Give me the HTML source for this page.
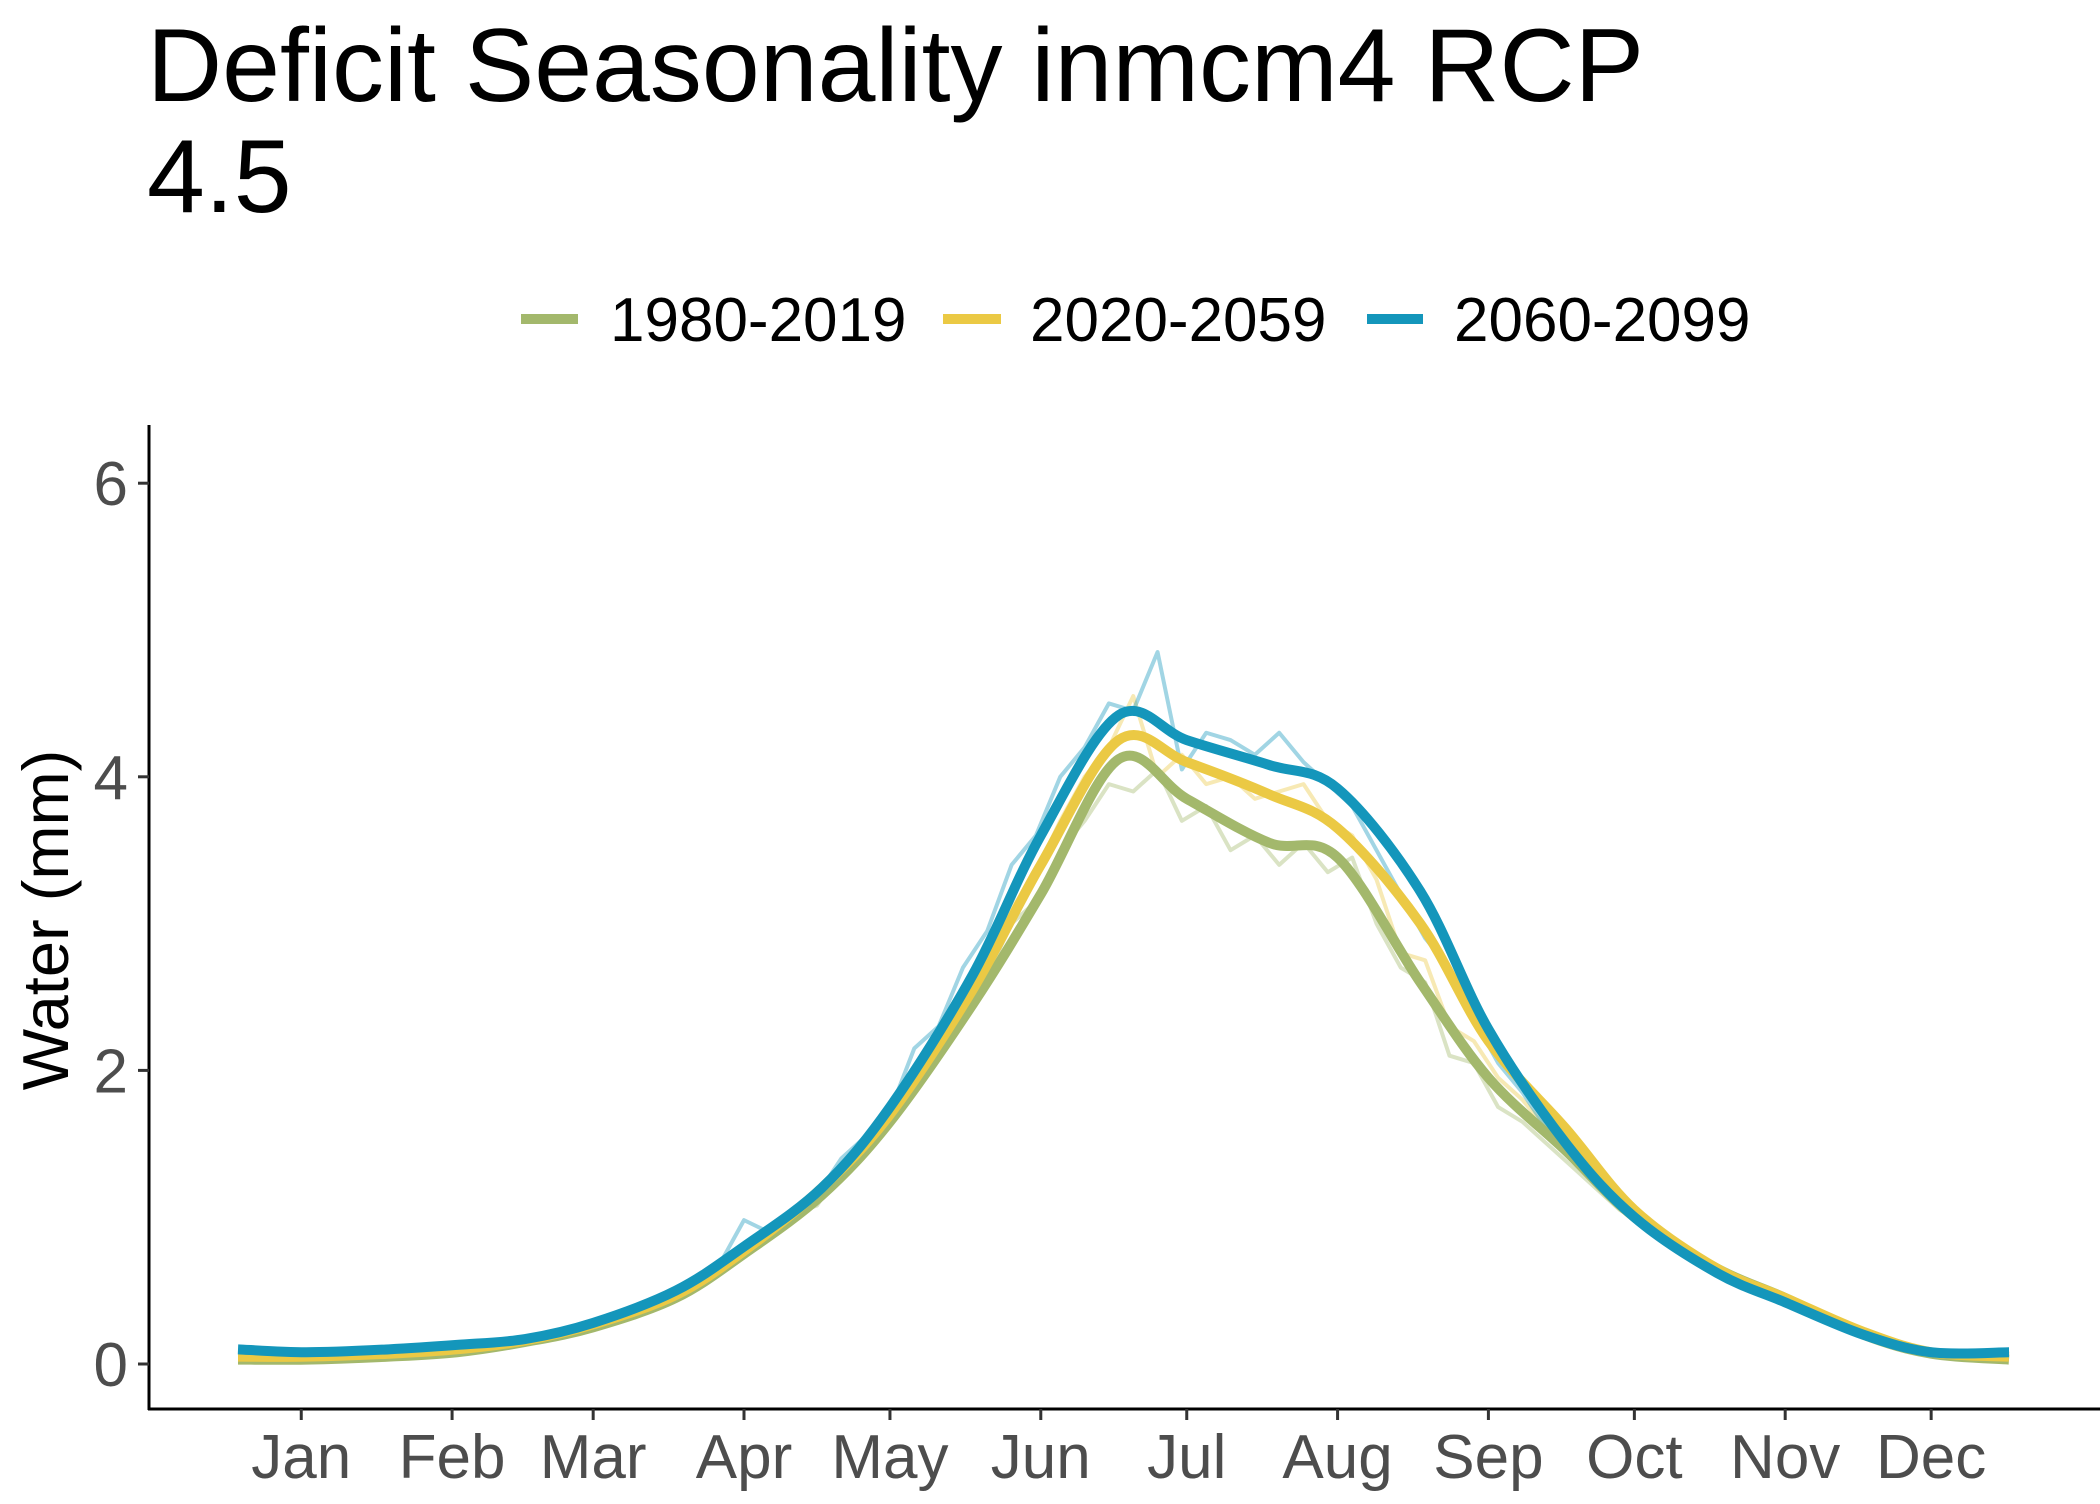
<!DOCTYPE html>
<html><head><meta charset="utf-8"><style>
html,body{margin:0;padding:0;background:#fff;}
svg text{font-family:"Liberation Sans",sans-serif;}
</style></head><body>
<svg id="chart" width="2100" height="1499" viewBox="0 0 2100 1499" xmlns="http://www.w3.org/2000/svg">
<text x="147" y="101" font-size="104" fill="#000">Deficit Seasonality inmcm4 RCP</text>
<text x="147" y="212" font-size="104" fill="#000">4.5</text>
<g>
<line x1="521" y1="319" x2="578" y2="319" stroke="#a3b86c" stroke-width="10"/>
<text x="610" y="341" font-size="62" fill="#000">1980-2019</text>
<line x1="943" y1="319" x2="1001" y2="319" stroke="#ebc944" stroke-width="10"/>
<text x="1030" y="341" font-size="62" fill="#000">2020-2059</text>
<line x1="1367" y1="319" x2="1423" y2="319" stroke="#1496bb" stroke-width="10"/>
<text x="1454" y="341" font-size="62" fill="#000">2060-2099</text>
</g>
<text transform="translate(68,920) rotate(-90)" text-anchor="middle" font-size="65" fill="#000">Water (mm)</text>
<g id="plot"></g>
</svg>
<script>
const yTicks=[0,2,4,6];
const monthLabels=["Jan","Feb","Mar","Apr","May","Jun","Jul","Aug","Sep","Oct","Nov","Dec"];
const monthTickDays=[14,45,74,105,135,166,196,227,258,288,319,349];
const smoothDays=[1,15,32,46,60,74,91,105,121,135,152,166,182,196,213,227,244,258,274,288,305,319,335,349,365];
const green=[0.03,0.03,0.05,0.08,0.15,0.25,0.45,0.75,1.15,1.65,2.45,3.2,4.12,3.85,3.55,3.45,2.6,1.95,1.45,1.0,0.65,0.45,0.2,0.07,0.03];
const yellow=[0.05,0.05,0.07,0.1,0.16,0.27,0.47,0.77,1.2,1.7,2.55,3.4,4.25,4.1,3.88,3.65,3.0,2.2,1.6,1.05,0.65,0.45,0.22,0.08,0.05];
const blue=[0.1,0.08,0.1,0.13,0.17,0.28,0.5,0.8,1.2,1.75,2.65,3.6,4.42,4.25,4.08,3.92,3.22,2.28,1.5,1.0,0.62,0.42,0.2,0.08,0.08];
const rawStart=100, rawStep=5;
const greenRaw=[0.62,0.78,0.85,1.02,1.08,1.32,1.45,1.62,1.95,2.1,2.45,2.65,3.0,3.15,3.5,3.7,3.95,3.9,4.05,3.7,3.8,3.5,3.6,3.4,3.55,3.35,3.45,3.0,2.7,2.6,2.1,2.05,1.75,1.65,1.5,1.35,1.2,1.05,0.95,0.82,0.72];
const yellowRaw=[0.65,0.8,0.88,1.05,1.12,1.35,1.5,1.68,1.95,2.2,2.5,2.75,3.1,3.35,3.7,4.0,4.2,4.55,4.0,4.15,3.95,4.0,3.85,3.9,3.95,3.7,3.6,3.3,2.8,2.75,2.3,2.2,1.95,1.8,1.6,1.45,1.25,1.1,0.98,0.85,0.75];
const blueRaw=[0.68,0.98,0.9,1.05,1.15,1.4,1.55,1.72,2.15,2.3,2.7,2.95,3.4,3.6,4.0,4.2,4.5,4.45,4.85,4.05,4.3,4.25,4.15,4.3,4.1,3.95,3.8,3.5,3.2,2.9,2.7,2.35,2.05,1.85,1.6,1.45,1.25,1.1,1.0,0.85,0.75];

const NS="http://www.w3.org/2000/svg";
const plot=document.getElementById('plot');
const x=d=>238+(d-1)*(2009-238)/364;
const y=v=>1364-v*146.8;
function mk(tag,attrs){const e=document.createElementNS(NS,tag);for(const k in attrs)e.setAttribute(k,attrs[k]);plot.appendChild(e);return e;}
function smoothPath(xs,ys){
  const p=xs.map((d,i)=>[x(d),y(ys[i])]);
  let s="M"+p[0][0]+","+p[0][1];
  for(let i=0;i<p.length-1;i++){
    const p0=p[Math.max(0,i-1)],p1=p[i],p2=p[i+1],p3=p[Math.min(p.length-1,i+2)];
    const c1=[p1[0]+(p2[0]-p0[0])/6,p1[1]+(p2[1]-p0[1])/6];
    const c2=[p2[0]-(p3[0]-p1[0])/6,p2[1]-(p3[1]-p1[1])/6];
    s+=" C"+c1[0]+","+c1[1]+" "+c2[0]+","+c2[1]+" "+p2[0]+","+p2[1];
  }
  return s;
}
let e=mk('line',{x1:149,y1:425,x2:149,y2:1410,stroke:'#000','stroke-width':3});


e=mk('line',{x1:148,y1:1409,x2:2100,y2:1409,stroke:'#000','stroke-width':3});


yTicks.forEach(v=>{
  let t=mk('line',{x1:138,y1:y(v),x2:149,y2:y(v),stroke:'#333','stroke-width':3});
  
  
  let l=mk('text',{x:128,y:y(v)+22,'text-anchor':'end','font-size':62,fill:'#4d4d4d'});
  l.textContent=v;
  
  
});
monthTickDays.forEach((d,i)=>{
  let t=mk('line',{x1:x(d),y1:1409,x2:x(d),y2:1420,stroke:'#333','stroke-width':3});
  
  
  let l=mk('text',{x:x(d),y:1478,'text-anchor':'middle','font-size':62,fill:'#4d4d4d'});
  l.textContent=monthLabels[i];
  
  
});
const series=[["1980-2019",green,greenRaw,"#a3b86c"],["2020-2059",yellow,yellowRaw,"#ebc944"],["2060-2099",blue,blueRaw,"#1496bb"]];
series.forEach(([name,sm,raw,col])=>{
  const rd=raw.map((_,i)=>rawStart+i*rawStep);
  let pts=rd.map((d,i)=>x(d)+","+y(raw[i])).join(" ");
  let r=mk('polyline',{points:pts,fill:'none',stroke:col,'stroke-width':4,'stroke-opacity':0.4,'stroke-linejoin':'round'});
  
  
});
series.forEach(([name,sm,raw,col])=>{
  let p=mk('path',{d:smoothPath(smoothDays,sm),fill:'none',stroke:col,'stroke-width':10,'stroke-linejoin':'round'});
  
  
});
</script>
</body></html>
